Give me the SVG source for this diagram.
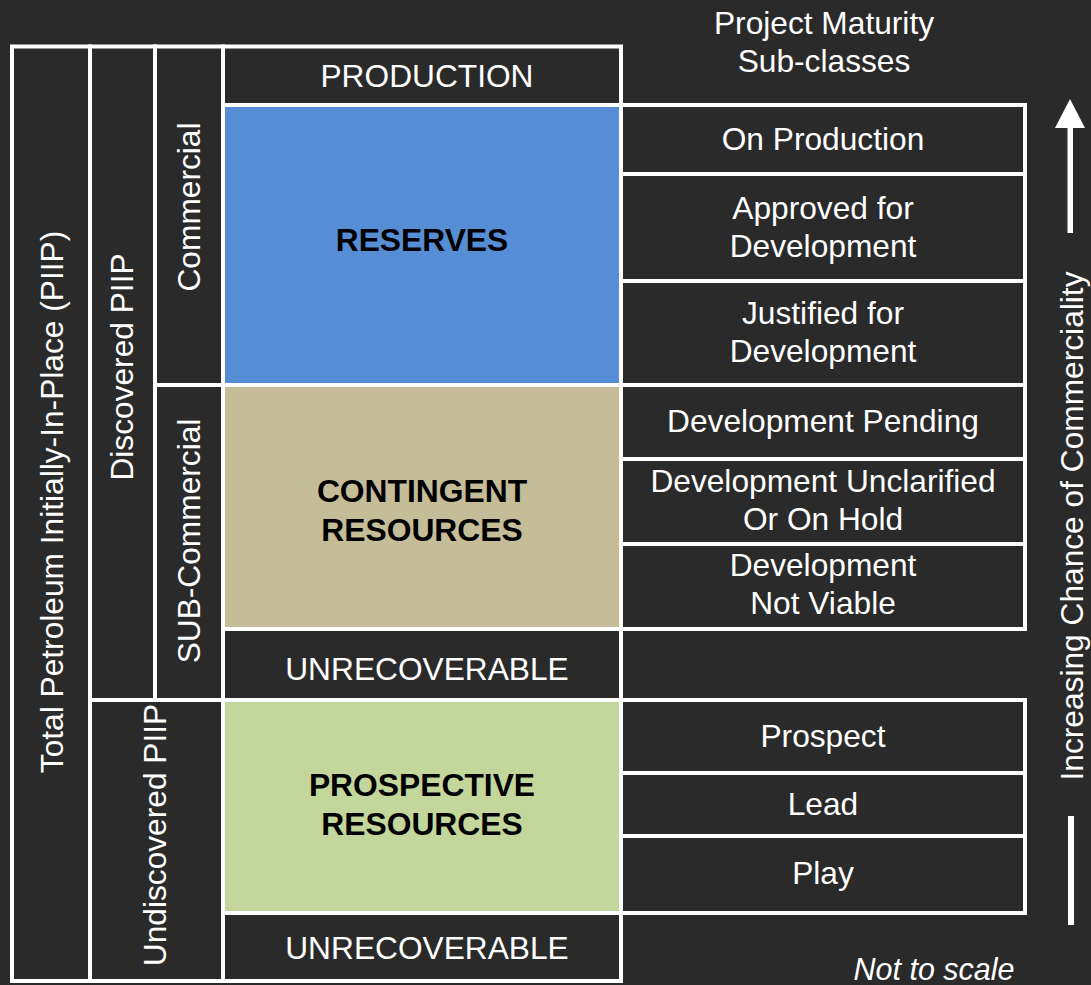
<svg xmlns="http://www.w3.org/2000/svg" width="1091" height="985" viewBox="0 0 1091 985">
<style>
.box{fill:#2a2a2a;stroke:#ffffff;stroke-width:4}
.t{font-family:"Liberation Sans",Arial,sans-serif;font-size:31.7px;fill:#ffffff;text-anchor:middle}
.b{font-family:"Liberation Sans",Arial,sans-serif;font-size:31.8px;font-weight:bold;fill:#000000;text-anchor:middle}
.i{font-style:italic;font-size:30.5px}
</style>
<rect x="0" y="0" width="1091" height="985" fill="#2a2a2a"/>
<g id="header">
<text class="t" x="824" y="34">Project Maturity</text>
<text class="t" x="824" y="72">Sub-classes</text>
</g>
<g id="total-piip">
<rect class="box" x="12" y="46.5" width="78" height="934.5"/>
<text class="t" transform="translate(63,502) rotate(-90)">Total Petroleum Initially-In-Place (PIIP)</text>
</g>
<g id="discovered-piip">
<rect class="box" x="90" y="46.5" width="65" height="653.5"/>
<text class="t" transform="translate(133,367) rotate(-90)">Discovered PIIP</text>
</g>
<g id="undiscovered-piip">
<rect class="box" x="90" y="700" width="133" height="281"/>
<text class="t" transform="translate(166,835) rotate(-90)">Undiscovered PIIP</text>
</g>
<g id="commercial">
<rect class="box" x="155" y="46.5" width="68" height="338.5"/>
<text class="t" transform="translate(200,207) rotate(-90)">Commercial</text>
</g>
<g id="sub-commercial">
<rect class="box" x="155" y="385" width="68" height="315"/>
<text class="t" transform="translate(200,541) rotate(-90)">SUB-Commercial</text>
</g>
<g id="production">
<rect class="box" x="223" y="46.5" width="398" height="58.5"/>
<text class="t" x="427" y="87">PRODUCTION</text>
</g>
<g id="reserves">
<rect class="box" x="223" y="105" width="398" height="280" style="fill:#558ed5"/>
<text class="b" x="422" y="251">RESERVES</text>
</g>
<g id="contingent">
<rect class="box" x="223" y="385" width="398" height="244" style="fill:#c4bd97"/>
<text class="b" x="422" y="502">CONTINGENT</text>
<text class="b" x="422" y="541">RESOURCES</text>
</g>
<g id="unrecoverable-1">
<rect class="box" x="223" y="629" width="398" height="71"/>
<text class="t" x="427" y="680">UNRECOVERABLE</text>
</g>
<g id="prospective">
<rect class="box" x="223" y="700" width="398" height="213" style="fill:#c3d69b"/>
<text class="b" x="422" y="796">PROSPECTIVE</text>
<text class="b" x="422" y="835">RESOURCES</text>
</g>
<g id="unrecoverable-2">
<rect class="box" x="223" y="913" width="398" height="68"/>
<text class="t" x="427" y="959">UNRECOVERABLE</text>
</g>
<g id="on-production">
<rect class="box" x="621" y="105" width="404" height="69"/>
<text class="t" x="823" y="150">On Production</text>
</g>
<g id="approved">
<rect class="box" x="621" y="174" width="404" height="107"/>
<text class="t" x="823" y="219">Approved for</text>
<text class="t" x="823" y="257">Development</text>
</g>
<g id="justified">
<rect class="box" x="621" y="281" width="404" height="104"/>
<text class="t" x="823" y="324">Justified for</text>
<text class="t" x="823" y="362">Development</text>
</g>
<g id="dev-pending">
<rect class="box" x="621" y="385" width="404" height="74"/>
<text class="t" x="823" y="432">Development Pending</text>
</g>
<g id="dev-unclarified">
<rect class="box" x="621" y="459" width="404" height="85"/>
<text class="t" x="823" y="492">Development Unclarified</text>
<text class="t" x="823" y="530">Or On Hold</text>
</g>
<g id="dev-not-viable">
<rect class="box" x="621" y="544" width="404" height="85"/>
<text class="t" x="823" y="576">Development</text>
<text class="t" x="823" y="614">Not Viable</text>
</g>
<g id="prospect">
<rect class="box" x="621" y="700" width="404" height="73"/>
<text class="t" x="823" y="747">Prospect</text>
</g>
<g id="lead">
<rect class="box" x="621" y="773" width="404" height="63"/>
<text class="t" x="823" y="815">Lead</text>
</g>
<g id="play">
<rect class="box" x="621" y="836" width="404" height="77"/>
<text class="t" x="823" y="884">Play</text>
</g>
<g id="connectors">
<polygon points="1055,128 1070,99 1085,128" fill="#ffffff"/>
<rect x="1067.5" y="126" width="5.5" height="107" fill="#ffffff"/>
<rect x="1068" y="816" width="6" height="109" fill="#ffffff"/>
</g>
<g id="axis-label">
<text class="t" transform="translate(1083,526) rotate(-90)">Increasing Chance of Commerciality</text>
</g>
<g id="note">
<text class="t i" x="934" y="980">Not to scale</text>
</g>
</svg>
